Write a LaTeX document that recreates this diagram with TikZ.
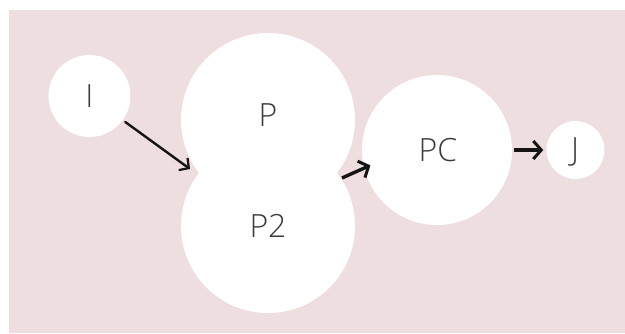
\documentclass[tikz,border=0pt]{standalone}
\usepackage{fontspec}
\setmainfont{Open Sans Light}
\usetikzlibrary{shapes.geometric,arrows.meta}
\definecolor{bgpink}{HTML}{EFDEE0}
\definecolor{txt}{HTML}{3A3A3A}
\tikzset{
  blob/.style={circle, fill=white, draw=none, inner sep=0pt},
  lbl/.style={text=txt, font=\fontsize{32}{34}\selectfont, inner sep=0pt},
  thinarr/.style={draw=black!92, line width=2.4pt, line cap=round,
    -{Straight Barb[length=7pt,width=15pt,line width=2.2pt]}},
  thickarr/.style={draw=black!92, line width=3.4pt,
    -{Straight Barb[length=8pt,width=18pt,line width=3pt]}}
}
\begin{document}
\begin{tikzpicture}[x=1pt,y=-1pt]
\useasboundingbox (0,0) rectangle (625,333);
\fill[bgpink] (9,10) rectangle (625,333);
\node[blob, minimum size=82pt] (I) at (89.5,96) {};
\node[lbl] (Il) at (89.5,96) {I};
\node[blob, minimum size=174pt] (P2) at (268,226) {};
\node[blob, minimum size=174pt] (P) at (268,120) {};
\node[lbl] (Pl) at (268,115) {P};
\node[lbl] (P2l) at (268,226) {P2};
\node[blob, minimum size=150pt] (PC) at (437,150) {};
\node[lbl] (PCl) at (438,150) {PC};
\node[blob, minimum size=58pt] (J) at (575.5,150) {};
\node[lbl] (Jl) at (575,152) {J};
\coordinate (notchL) at (190,169);
\coordinate (notchR) at (342,178);
\draw[thinarr, shorten <=3pt] (I) -- (notchL);
\draw[thickarr, shorten >=-7pt] (notchR) -- (PC.194);
\draw[thickarr, shorten <=2pt, shorten >=3pt] (PC.east) -- (J.west);
\end{tikzpicture}
\end{document}
